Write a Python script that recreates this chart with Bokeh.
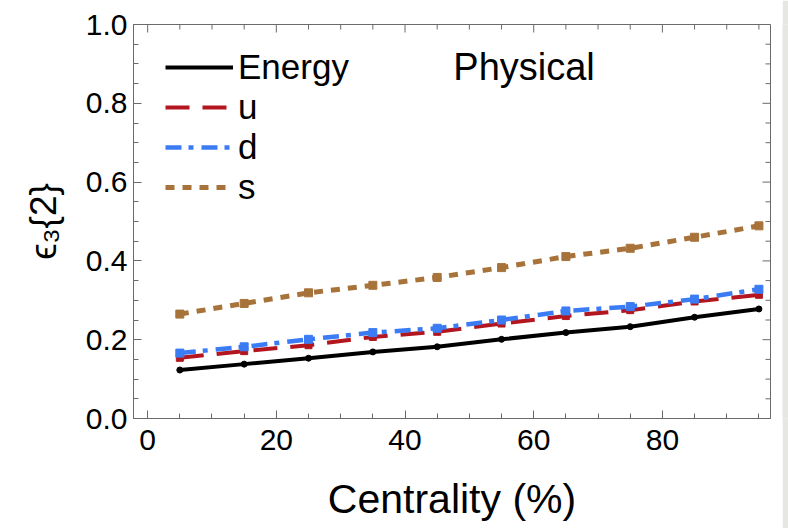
from bokeh.plotting import figure
from bokeh.layouts import row
from bokeh.models import (Range1d, FixedTicker, LinearAxis, Legend, LegendItem,
                          Label, NumeralTickFormatter)
from bokeh.embed import file_html
from bokeh.resources import INLINE

# ---- data ----
centrality = [5, 15, 25, 35, 45, 55, 65, 75, 85, 95]
energy = [0.123, 0.138, 0.153, 0.169, 0.182, 0.201, 0.218, 0.233, 0.257, 0.278]
u_vals = [0.154, 0.171, 0.186, 0.207, 0.220, 0.241, 0.260, 0.275, 0.297, 0.314]
d_vals = [0.166, 0.182, 0.201, 0.218, 0.229, 0.250, 0.273, 0.284, 0.303, 0.328]
s_vals = [0.265, 0.292, 0.319, 0.338, 0.358, 0.383, 0.411, 0.432, 0.460, 0.489]
series_labels = ["Energy", "u", "d", "s"]
x_major = [0, 20, 40, 60, 80]
x_minor = [0, 5, 10, 15, 20, 25, 30, 35, 40, 45, 50, 55, 60, 65, 70, 75, 80, 85, 90, 95]
y_major = [0.0, 0.2, 0.4, 0.6, 0.8, 1.0]
y_minor = [i * 0.05 for i in range(21)]

FONT = "Liberation Sans"
FRAME = "#6a6a6a"
X0, X1 = -2.2, 96.8
Y0, Y1 = 0.0, 1.0
FRAME_W, FRAME_H = 637, 394

p = figure(width=782, height=528, output_backend="svg", toolbar_location=None,
           x_range=Range1d(X0, X1), y_range=Range1d(Y0, Y1),
           min_border_left=133, min_border_right=12, min_border_top=24,
           min_border_bottom=110, x_axis_location=None, y_axis_location=None)
p.grid.visible = False
p.outline_line_color = FRAME
p.outline_line_width = 1
p.background_fill_color = "white"
p.border_fill_color = "white"

def style_axis(ax, ticks, minor):
    ax.ticker = FixedTicker(ticks=ticks, minor_ticks=minor)
    ax.axis_line_color = FRAME
    ax.major_tick_line_color = FRAME
    ax.minor_tick_line_color = FRAME
    ax.major_tick_in = 8
    ax.major_tick_out = 0
    ax.minor_tick_in = 5
    ax.minor_tick_out = 0
    ax.major_label_text_font = FONT
    ax.major_label_text_font_size = "30px"
    ax.major_label_text_color = "black"
    ax.axis_label_text_font = FONT
    ax.axis_label_text_font_style = "normal"
    ax.axis_label_text_color = "black"

xb = LinearAxis()
style_axis(xb, x_major, x_minor)
xb.major_label_standoff = 11
xb.axis_label = "Centrality (%)"
xb.axis_label_text_font_size = "41px"
xb.axis_label_standoff = 23
p.add_layout(xb, "below")

yl = LinearAxis()
style_axis(yl, y_major, y_minor)
yl.major_label_standoff = 6
yl.formatter = NumeralTickFormatter(format="0.0")
yl.axis_label = "\u03f5\u2083{2}"
yl.axis_label_text_font_size = "37px"
yl.axis_label_standoff = 19
p.add_layout(yl, "left")

# inward ticks on the top and right edges of the frame (mirroring the axes)
maj_dy = 8 * (Y1 - Y0) / FRAME_H
min_dy = 5 * (Y1 - Y0) / FRAME_H
maj_dx = 8 * (X1 - X0) / FRAME_W
min_dx = 5 * (X1 - X0) / FRAME_W
top_minor = [t for t in x_minor if t not in x_major]
right_minor = [t for t in y_minor if all(abs(t - m) > 1e-9 for m in y_major)]
p.segment(x0=x_major, y0=[Y1] * len(x_major), x1=x_major,
          y1=[Y1 - maj_dy] * len(x_major), line_color=FRAME, line_width=1)
p.segment(x0=top_minor, y0=[Y1] * len(top_minor), x1=top_minor,
          y1=[Y1 - min_dy] * len(top_minor), line_color=FRAME, line_width=1)
p.segment(x0=[X1] * len(y_major), y0=y_major, x1=[X1 - maj_dx] * len(y_major),
          y1=y_major, line_color=FRAME, line_width=1)
p.segment(x0=[X1] * len(right_minor), y0=right_minor,
          x1=[X1 - min_dx] * len(right_minor), y1=right_minor,
          line_color=FRAME, line_width=1)

# ---- series ----
r_e = p.line(centrality, energy, line_color="black", line_width=4)
p.scatter(centrality, energy, marker="circle", size=6, color="black")
r_u = p.line(centrality, u_vals, line_color="#b3161e", line_width=4, line_dash="24 13")
p.scatter(centrality, u_vals, marker="square", size=7, color="#b3161e")
r_d = p.line(centrality, d_vals, line_color="#3b7cf4", line_width=4.5, line_dash="16 7 5 8")
p.scatter(centrality, d_vals, marker="square", size=8, color="#3b7cf4")
r_s = p.line(centrality, s_vals, line_color="#a8733a", line_width=5, line_dash="9 8")
p.scatter(centrality, s_vals, marker="square", size=8, color="#a8733a")

legend = Legend(items=[LegendItem(label=series_labels[0], renderers=[r_e]),
                       LegendItem(label=series_labels[1], renderers=[r_u]),
                       LegendItem(label=series_labels[2], renderers=[r_d]),
                       LegendItem(label=series_labels[3], renderers=[r_s])],
                location=(32, 211), margin=0, padding=0, spacing=0,
                glyph_width=68, glyph_height=36, label_height=36,
                label_standoff=5, label_text_font=FONT, label_text_font_size="35px",
                label_text_color="black",
                border_line_color=None, background_fill_alpha=0)
p.add_layout(legend)

p.add_layout(Label(x=47.5, y=0.893, text="Physical", text_font=FONT,
                   text_font_size="38px", text_baseline="middle", text_align="left",
                   text_color="black"))

# light gray page strip at the right edge of the reference image
strip = figure(width=6, height=528, output_backend="svg", toolbar_location=None,
               min_border=0, x_axis_location=None, y_axis_location=None)
strip.grid.visible = False
strip.outline_line_color = None
strip.background_fill_color = "#e6e6e3"
strip.border_fill_color = "#e6e6e3"

layout = row(p, strip, spacing=0)

open("out.html", "w").write(file_html(layout, INLINE))
